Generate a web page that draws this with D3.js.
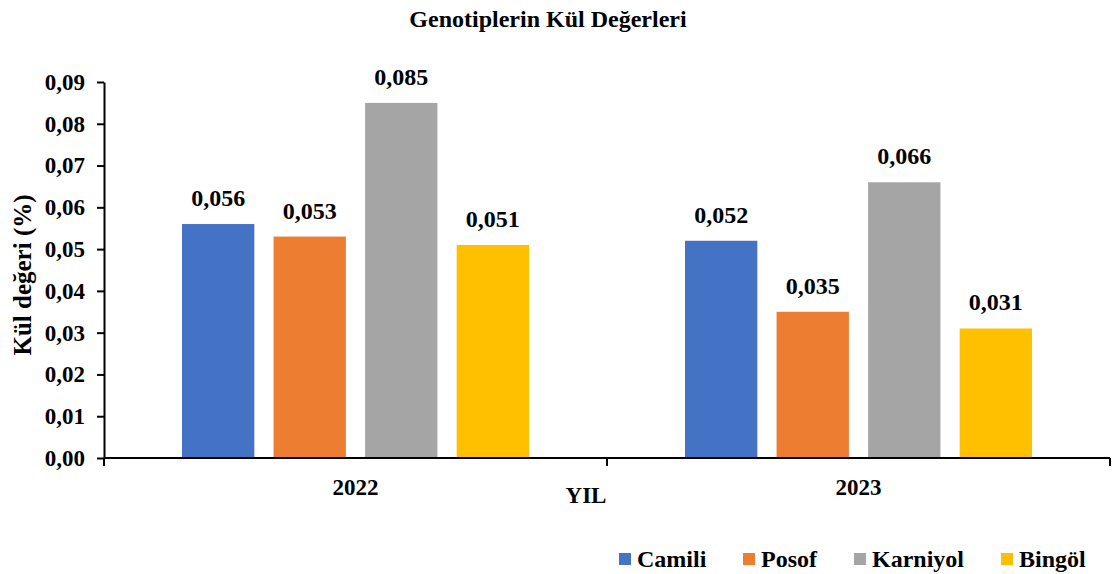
<!DOCTYPE html>
<html>
<head>
<meta charset="utf-8">
<script src="https://cdn.jsdelivr.net/npm/d3@7"></script>
<style>
  body { margin: 0; background: #fff; }
  text { font-family: "Liberation Serif", "Times New Roman", serif; font-weight: bold; fill: #000; }
</style>
</head>
<body>
<script>
// Data
const years = ["2022", "2023"];
const genotypes = ["Camili", "Posof", "Karniyol", "Bingöl"];
const camili = [0.056, 0.052];
const posof = [0.053, 0.035];
const karniyol = [0.085, 0.066];
const bingol = [0.051, 0.031];
const yTicks = [0, 0.01, 0.02, 0.03, 0.04, 0.05, 0.06, 0.07, 0.08, 0.09];
const colors = ["#4472C4", "#ED7D31", "#A5A5A5", "#FFC000"];

const seriesValues = [camili, posof, karniyol, bingol];

// Constants
const SVG_WIDTH = 1113;
const SVG_HEIGHT = 574;
const MARGIN = { top: 82, right: 3, bottom: 116, left: 104 };
const CHART_WIDTH = SVG_WIDTH - MARGIN.left - MARGIN.right;
const CHART_HEIGHT = SVG_HEIGHT - MARGIN.top - MARGIN.bottom;

const fmt = (v) => d3.format(".3f")(v).replace(".", ",");
const fmtTick = (v) => d3.format(".2f")(v).replace(".", ",");

const svg = d3.select("body")
  .append("svg")
  .attr("width", SVG_WIDTH)
  .attr("height", SVG_HEIGHT);

const chartGroup = svg.append("g")
  .attr("transform", `translate(${MARGIN.left}, ${MARGIN.top})`);

// Scales
const x0 = d3.scaleBand()
  .domain(years)
  .range([0, CHART_WIDTH]);

const groupPad = 78;
const x1 = d3.scaleBand()
  .domain(genotypes)
  .range([groupPad, x0.bandwidth() - groupPad])
  .paddingInner(0.21);

const yScale = d3.scaleLinear()
  .domain([0, 0.09])
  .range([CHART_HEIGHT, 0]);

// Bars
const groups = chartGroup.selectAll(".year")
  .data(years)
  .enter()
  .append("g")
  .attr("class", "year")
  .attr("transform", (d) => `translate(${x0(d)}, 0)`);

groups.selectAll("rect")
  .data((d, i) => genotypes.map((g, j) => ({ g, v: seriesValues[j][i], c: colors[j] })))
  .enter()
  .append("rect")
  .attr("x", (d) => x1(d.g))
  .attr("y", (d) => yScale(d.v))
  .attr("width", x1.bandwidth())
  .attr("height", (d) => CHART_HEIGHT - yScale(d.v))
  .attr("fill", (d) => d.c);

groups.selectAll(".lbl")
  .data((d, i) => genotypes.map((g, j) => ({ g, v: seriesValues[j][i] })))
  .enter()
  .append("text")
  .attr("class", "lbl")
  .attr("x", (d) => x1(d.g) + x1.bandwidth() / 2)
  .attr("y", (d) => yScale(d.v) - 18)
  .attr("text-anchor", "middle")
  .style("font-size", "24px")
  .text((d) => fmt(d.v));

// Y axis
const yAxis = chartGroup.append("g")
  .call(d3.axisLeft(yScale).tickValues(yTicks).tickFormat(fmtTick).tickSize(7).tickSizeOuter(0));
yAxis.select(".domain").attr("stroke", "#000").attr("stroke-width", 2);
yAxis.selectAll(".tick line").attr("stroke", "#000").attr("stroke-width", 2);
yAxis.selectAll(".tick text")
  .attr("x", -19)
  .style("font-size", "23px")
  .attr("fill", "#000");

// X axis with boundary ticks
const xAxisG = chartGroup.append("g")
  .attr("transform", `translate(0, ${CHART_HEIGHT})`);
xAxisG.append("line")
  .attr("x1", 0).attr("x2", CHART_WIDTH)
  .attr("stroke", "#000").attr("stroke-width", 2);
const boundaries = years.map((d) => x0(d)).concat([CHART_WIDTH]);
xAxisG.selectAll(".bt")
  .data(boundaries)
  .enter()
  .append("line")
  .attr("x1", (d) => d).attr("x2", (d) => d)
  .attr("y1", 0).attr("y2", 8)
  .attr("stroke", "#000").attr("stroke-width", 2);
xAxisG.selectAll(".cat")
  .data(years)
  .enter()
  .append("text")
  .attr("x", (d) => x0(d) + x0.bandwidth() / 2)
  .attr("y", 37)
  .attr("text-anchor", "middle")
  .style("font-size", "23px")
  .text((d) => d);

// Axis titles
svg.append("text")
  .attr("x", 586)
  .attr("y", 503)
  .attr("text-anchor", "middle")
  .style("font-size", "23px")
  .text("YIL");

svg.append("text")
  .attr("transform", "translate(31, 275) rotate(-90)")
  .attr("text-anchor", "middle")
  .style("font-size", "25px")
  .text("Kül değeri (%)");

// Title
svg.append("text")
  .attr("x", 548)
  .attr("y", 27)
  .attr("text-anchor", "middle")
  .style("font-size", "24px")
  .text("Genotiplerin Kül Değerleri");

// Legend
const legendX = [619, 743, 854, 1001];
const legend = svg.append("g");
genotypes.forEach((g, i) => {
  legend.append("rect")
    .attr("x", legendX[i]).attr("y", 553)
    .attr("width", 12).attr("height", 12)
    .attr("fill", colors[i]);
  legend.append("text")
    .attr("x", legendX[i] + 18).attr("y", 567)
    .style("font-size", "24px")
    .text(g);
});
</script>
</body>
</html>
